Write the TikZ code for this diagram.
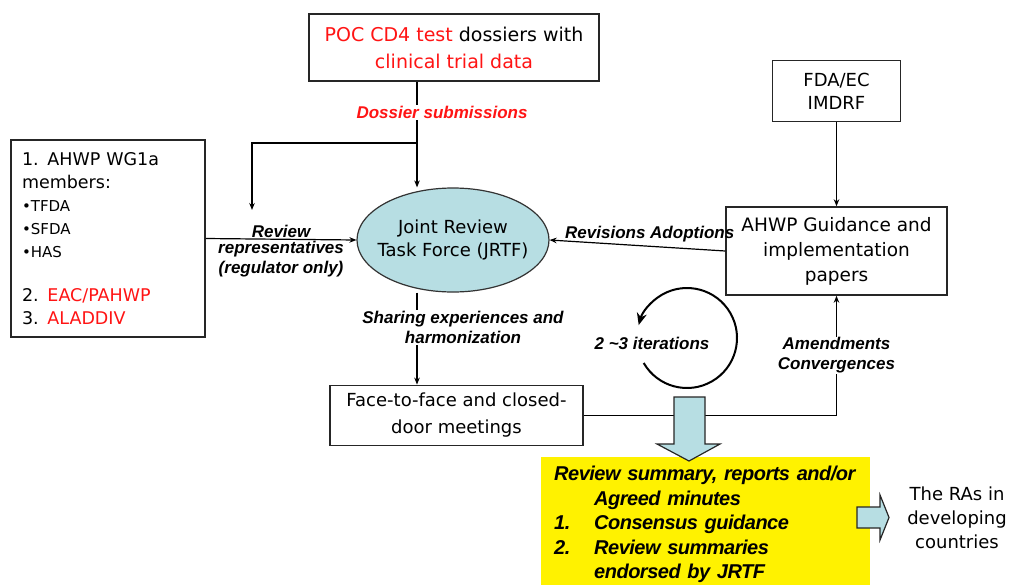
\documentclass[tikz,border=0pt]{standalone}
\usepackage{fontspec}
\setmainfont{DejaVu Sans}
\newfontfamily\lblfont{Liberation Sans}
\newfontfamily\tightfont{Liberation Sans}[LetterSpace=-2.5]
\usetikzlibrary{positioning,arrows.meta,shapes.geometric}
\definecolor{jrtfblue}{RGB}{183,222,227}
\definecolor{dossred}{RGB}{255,20,20}

\begin{document}
\begin{tikzpicture}[
    x=1pt, y=-1pt,
    >={Stealth[length=7pt,width=5.5pt]},
    font=\fontsize{18}{24}\selectfont,
    box/.style={
        draw=black!85,
        fill=white,
        line width=1.5pt,
        align=center,
        inner sep=4pt
    },
    lbl/.style={
        font=\lblfont\bfseries\itshape\fontsize{17}{20}\selectfont,
        align=center,
        inner sep=1pt
    },
    conn/.style={->, line width=1.2pt},
    blockarrow/.style={
        draw=black!85,
        fill=jrtfblue,
        line width=1.2pt
    }
]

\fill[white] (0,0) rectangle (1011,584);
\useasboundingbox (0,0) rectangle (1011,584);

% Dossier source
\node[box, minimum width=290pt, minimum height=67pt, font=\fontsize{19}{27}\selectfont] (poc) at (454,47.5) {
    \textcolor{dossred}{POC CD4 test} dossiers with\\
    \textcolor{dossred}{clinical trial data}
};

% WG1a members
\node[box, minimum width=194pt, minimum height=197pt, text width=172pt, align=left, font=\fontsize{17.5}{23}\selectfont] (members) at (108,238.5) {
    1. AHWP WG1a\\
    members:\\
    {\fontsize{15}{21}\selectfont •TFDA}\\
    {\fontsize{15}{21}\selectfont •SFDA}\\
    {\fontsize{15}{21}\selectfont •HAS}\\[21pt]
    2. \textcolor{dossred}{EAC/PAHWP}\\
    3. \textcolor{dossred}{ALADDIV}
};

% Joint review task force
\node[ellipse, draw=black!80, fill=jrtfblue, line width=1.2pt, minimum width=192pt, minimum height=104pt, inner xsep=-20pt, align=center, font=\fontsize{18}{23}\selectfont] (jrtf) at (453,240) {
    Joint Review\\
    Task Force (JRTF)
};

% Guidance side
\node[box, minimum width=221pt, minimum height=88pt, font=\fontsize{18.5}{25}\selectfont] (ahwp) at (836.5,251) {
    AHWP Guidance and\\
    implementation\\
    papers
};
\node[box, above=84pt of ahwp, minimum width=128pt, minimum height=61pt, font=\fontsize{18}{23}\selectfont] (fda) {
    FDA/EC\\
    IMDRF
};

% Meetings
\node[box, below=92pt of jrtf, xshift=3.5pt, minimum width=253pt, minimum height=60pt, font=\fontsize{18}{27}\selectfont] (face) {
    Face-to-face and closed-\\
    door meetings
};

% Outputs
\node[fill=yellow, anchor=north west, minimum width=329pt, minimum height=135pt, text width=311pt, align=left, inner xsep=9pt, inner ysep=5pt, font=\tightfont\bfseries\itshape\fontsize{20}{24.5}\selectfont] (minutes) at (541,457) {
    \hspace*{4pt}Review summary, reports and/or\\
    \hspace*{44pt}Agreed minutes\\
    \hspace*{4pt}\makebox[40pt][l]{1.}Consensus guidance\\
    \hspace*{4pt}\makebox[40pt][l]{2.}Review summaries\\
    \hspace*{44pt}endorsed by JRTF
};
\node[align=center, font=\fontsize{18}{24}\selectfont] (ras) at (957,518) {
    The RAs in\\
    developing\\
    countries
};

\node[lbl] (iter) at (652,343) {2 \textasciitilde3 iterations};

% Connections
\coordinate (split) at (417,143);
\coordinate (revtop) at (252,210);

\draw[line width=1.2pt] (poc.south -| split) -- node[lbl, fill=white, text=dossred, xshift=25pt] (dosslbl) {Dossier submissions} (split);
\draw[conn] (split) -- (split |- jrtf.north);
\draw[conn] (split) -| (revtop);

\draw[conn] (members.east) -- (jrtf.west)
    node[lbl, above, midway] (revlbl) {Review}
    node[lbl, below, midway] (replbl) {representatives\\(regulator only)};

\draw[conn] (ahwp.west) -- node[lbl, above=3pt, pos=0.43] (revadlbl) {Revisions Adoptions} (jrtf.east);
\draw[conn] (fda) -- (ahwp);

\draw[conn] (split |- jrtf.south) -- node[lbl, fill=white, pos=0.38, xshift=46pt] (sharelbl) {Sharing experiences and\\harmonization} (split |- face.north);

\draw[conn] (face.east) -| node[lbl, fill=white, pos=0.75] (amendlbl) {Amendments\\Convergences} (ahwp.south);

% Iteration loop
\draw[line width=2pt, -{Stealth[length=12pt,width=10pt]}] (687,338) ++(150:50) arc[start angle=150, end angle=-165, radius=50];

% Block arrows
\draw[blockarrow] (674,397) -- (705,397) -- (705,444) -- (720,444) -- (689,461) -- (657,444) -- (674,444) -- cycle;
\draw[blockarrow] (857,507) -- (880,507) -- (880,495) -- (889,517.5) -- (880,540) -- (880,528) -- (857,528) -- cycle;

\end{tikzpicture}
\end{document}
